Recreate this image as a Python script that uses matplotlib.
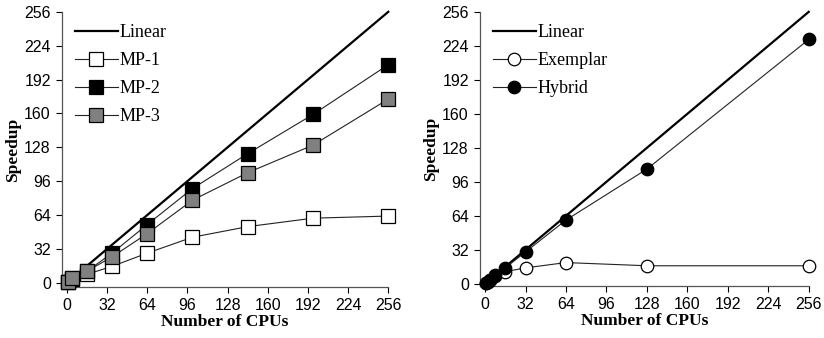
import matplotlib
matplotlib.use("Agg")
import matplotlib.pyplot as plt

# left panel: MP runs (perfect-square CPU counts)
mp_cpus = [1, 4, 16, 36, 64, 100, 144, 196, 256]
mp1 = [1, 3.5, 8, 15.5, 28, 43, 53, 61, 63]
mp2 = [1, 4, 11, 28, 55, 89, 122, 159, 206]
mp3 = [1, 4, 11, 24.5, 46.5, 78, 104, 130, 173.5]

# right panel: Exemplar vs Hybrid
ex_cpus = [1, 2, 4, 8, 16, 32, 64, 128, 256]
exemplar = [1, 2, 4, 7, 11.5, 15, 20, 17, 17]
hybrid = [1, 2, 4, 8, 15, 30, 60, 108, 230]

linear = [0, 256]
ticks = list(range(0, 257, 32))

plt.rcParams.update({
    "font.family": "Liberation Sans",
    "axes.linewidth": 0.9,
    "xtick.direction": "out",
    "ytick.direction": "out",
})

fig = plt.figure(figsize=(8.24, 3.38), dpi=100, facecolor="white")
ax1 = fig.add_axes([0.0752, 0.151, 0.396, 0.814])
ax2 = fig.add_axes([0.5825, 0.154, 0.399, 0.811])

serif = "Liberation Serif"
line_kw = dict(color="#222222", linewidth=0.8)

ax1.plot(linear, linear, color="black", linewidth=1.6, label="Linear", zorder=2)
ax1.plot(mp_cpus, mp1, marker="s", markersize=9.5, markerfacecolor="white",
         markeredgecolor="black", markeredgewidth=0.9, label="MP-1", zorder=3, **line_kw)
ax1.plot(mp_cpus, mp2, marker="s", markersize=9.5, markerfacecolor="black",
         markeredgecolor="black", markeredgewidth=0.9, label="MP-2", zorder=3, **line_kw)
ax1.plot(mp_cpus, mp3, marker="s", markersize=9.5, markerfacecolor="#808080",
         markeredgecolor="black", markeredgewidth=0.9, label="MP-3", zorder=4, **line_kw)
ax1.set_ylim(-4, 256)

ax2.plot(linear, linear, color="black", linewidth=1.6, label="Linear", zorder=2)
ax2.plot(ex_cpus, exemplar, marker="o", markersize=9, markerfacecolor="white",
         markeredgecolor="black", markeredgewidth=0.9, label="Exemplar", zorder=3, **line_kw)
ax2.plot(ex_cpus, hybrid, marker="o", markersize=9, markerfacecolor="black",
         markeredgecolor="black", markeredgewidth=0.9, label="Hybrid", zorder=4, **line_kw)
ax2.set_ylim(-2, 256)

for ax in (ax1, ax2):
    ax.set_xlim(-4, 256)
    ax.set_xticks(ticks)
    ax.set_yticks(ticks)
    ax.tick_params(labelsize=11.5, length=4, width=0.8, pad=4)
    ax.spines["top"].set_visible(False)
    ax.spines["right"].set_visible(False)
    for s in ("left", "bottom"):
        ax.spines[s].set_color("#555555")
    for ln in ax.lines:
        ln.set_clip_on(False)
    ax.set_xlabel("Number of CPUs", fontfamily=serif, fontweight="bold", fontsize=12.5, labelpad=1)
    ax.set_ylabel("Speedup", fontfamily=serif, fontweight="bold", fontsize=12.5, labelpad=2)
    ax.legend(loc="upper left", bbox_to_anchor=(0.0, 1.0), frameon=False,
              prop={"family": serif, "size": 13}, handlelength=2.4,
              handletextpad=0.1, labelspacing=0.6, borderaxespad=0.3)

fig.savefig("out.png", dpi=100, facecolor="white")
